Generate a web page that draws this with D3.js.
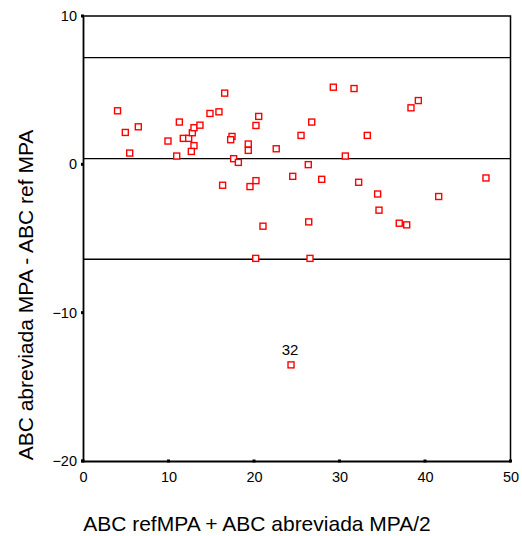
<!DOCTYPE html>
<html>
<head>
<meta charset="utf-8">
<script src="https://cdn.jsdelivr.net/npm/d3@7"></script>
<style>
  body { margin: 0; background: #fff; }
  text { font-family: "Liberation Sans", Arial, sans-serif; fill: #000; }
</style>
</head>
<body>
<svg width="522" height="536"></svg>
<script>
// mean of differences (x) vs difference (y)
var meanX = [4.04, 4.95, 6.47, 5.46, 9.94, 11.27, 10.96, 11.73, 12.36, 12.79,
    12.98, 13.68, 12.98, 12.67, 14.85, 15.9, 16.57, 16.33, 20.55, 20.23,
    17.43, 17.27, 19.33, 19.33, 22.6, 25.5, 26.75, 29.28, 30.68, 17.62,
    18.17, 26.35, 19.53, 20.23, 24.53, 27.92, 31.7, 39.22, 38.36, 33.25,
    32.24, 47.13, 34.46, 41.6, 21.05, 26.4, 20.2, 26.55, 34.62, 36.99,
    37.86, 24.33];
var diffY = [3.61, 2.15, 2.53, 0.76, 1.57, 2.85, 0.56, 1.75, 1.75, 2.13,
    2.47, 2.64, 1.26, 0.87, 3.43, 3.54, 4.8, -1.41, 3.23, 2.62,
    1.88, 1.66, 1.37, 0.94, 1.05, 1.95, 2.85, 5.2, 0.56, 0.38,
    0.13, -0.02, -1.5, -1.1, -0.81, -1.01, 5.11, 4.3, 3.81, 1.95,
    -1.21, -0.92, -2.0, -2.17, -4.17, -3.88, -6.34, -6.34, -3.09, -3.97,
    -4.08, -13.52];
var pointLabels = [{ i: 51, text: "32" }];

// mean and limits of agreement
var refLines = [7.2, 0.38, -6.4];

var xTicks = [0, 10, 20, 30, 40, 50];
var yTicks = [10, 0, -10, -20];

var svg = d3.select("svg");

var x = d3.scaleLinear().domain([0, 50]).range([83, 510.5]);
var y = d3.scaleLinear().domain([-20, 10]).range([461, 16]);

// frame (top and right)
svg.append("path")
    .attr("d", "M" + x(0) + "," + y(10) + "H" + x(50) + "V" + y(-20))
    .attr("fill", "none")
    .attr("stroke", "#000")
    .attr("stroke-width", 1.5);

// reference lines
svg.append("g")
    .selectAll("line")
    .data(refLines)
    .enter().append("line")
    .attr("x1", x(0))
    .attr("x2", x(50))
    .attr("y1", function (d) { return y(d); })
    .attr("y2", function (d) { return y(d); })
    .attr("stroke", "#000")
    .attr("stroke-width", 1.3);

// axes
var xAxis = svg.append("g")
    .attr("transform", "translate(0," + y(-20) + ")")
    .call(d3.axisBottom(x).tickValues(xTicks).tickSize(0).tickPadding(11));
var yAxis = svg.append("g")
    .attr("transform", "translate(" + x(0) + ",0)")
    .call(d3.axisLeft(y).tickValues(yTicks).tickSize(0).tickPadding(6));

[xAxis, yAxis].forEach(function (ax) {
    ax.select(".domain").attr("stroke", "#000").attr("stroke-width", 1.8);
    ax.selectAll("text")
        .style("font-family", '"Liberation Sans", Arial, sans-serif')
        .style("font-size", "14.5px")
        .attr("fill", "#000");
});

// little square tick marks
svg.append("g").selectAll("rect")
    .data(xTicks).enter().append("rect")
    .attr("x", function (d) { return x(d) - 1.5; })
    .attr("y", y(-20) - 1.5)
    .attr("width", 3).attr("height", 3)
    .attr("fill", "#000");
svg.append("g").selectAll("rect")
    .data(yTicks).enter().append("rect")
    .attr("x", x(0) - 2)
    .attr("y", function (d) { return y(d) - 1.5; })
    .attr("width", 3).attr("height", 3)
    .attr("fill", "#000");

// points
svg.append("g")
    .selectAll("rect")
    .data(meanX)
    .enter().append("rect")
    .attr("x", function (d) { return x(d) - 3; })
    .attr("y", function (d, i) { return y(diffY[i]) - 3; })
    .attr("width", 6)
    .attr("height", 6)
    .attr("fill", "#fff")
    .attr("stroke", "#f00")
    .attr("stroke-width", 1.4);

svg.append("g")
    .selectAll("text")
    .data(pointLabels)
    .enter().append("text")
    .attr("x", function (d) { return x(meanX[d.i]) - 1; })
    .attr("y", function (d) { return y(diffY[d.i]) - 10; })
    .attr("text-anchor", "middle")
    .style("font-size", "15px")
    .text(function (d) { return d.text; });

// axis titles
svg.append("text")
    .attr("x", 257)
    .attr("y", 531)
    .attr("text-anchor", "middle")
    .style("font-size", "21px")
    .text("ABC refMPA + ABC abreviada MPA/2");

svg.append("text")
    .attr("transform", "translate(33,295) rotate(-90)")
    .attr("text-anchor", "middle")
    .style("font-size", "21px")
    .text("ABC abreviada MPA - ABC ref MPA");
</script>
</body>
</html>
